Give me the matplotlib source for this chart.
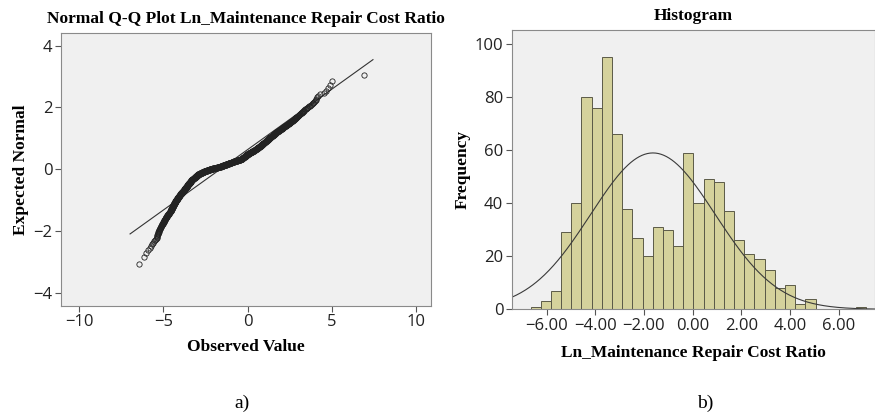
import numpy as np
from statistics import NormalDist
from matplotlib import pyplot as plt

# histogram data (bins)
bin_start = -6.656
bin_width = 0.418
counts = [1, 3, 7, 29, 40, 80, 76, 95, 66, 38, 27, 20, 31, 30, 24, 59,
          40, 49, 48, 37, 26, 21, 19, 15, 8, 9, 2, 4, 0, 0, 0, 0, 1]

# fitted normal curve
fit_mean = -1.63
fit_sd = 2.56

hist_xticks = [-6, -4, -2, 0, 2, 4, 6]
hist_yticks = [0, 20, 40, 60, 80, 100]
qq_xticks = [-10, -5, 0, 5, 10]
qq_yticks = [-4, -2, 0, 2, 4]

bg = '#f0f0f0'
bar_col = '#d5d29c'
edge_col = '#5b5a48'
spine_col = '#8a8a8a'
serif = 'Liberation Serif'
sans = 'Open Sans'

counts = np.array(counts)
edges = bin_start + bin_width * np.arange(len(counts) + 1)
n = counts.sum()

# observed values spread over each bin, expected normal from ranks
obs = []
for i, c in enumerate(counts):
    for j in range(c):
        obs.append(edges[i] + bin_width * (j + 0.5) / c)
obs = np.sort(np.array(obs))
nd = NormalDist()
expected = np.array([nd.inv_cdf(r / (n + 1)) for r in range(1, n + 1)])

fig = plt.figure(figsize=(8.75, 4.15), dpi=100)

# ---- a) Q-Q plot
ax1 = fig.add_axes([0.0694, 0.2627, 0.4232, 0.6586])
ax1.set_facecolor(bg)
line_x = np.array([-6.98, 7.45])
ax1.plot(line_x, (line_x - fit_mean) / fit_sd, color='#333333', lw=0.8)
ax1.plot(obs, expected, 'o', mfc='none', mec='#222222', mew=0.6, ms=3.8)
ax1.set_xlim(-11.1, 10.9)
ax1.set_ylim(-4.42, 4.42)
ax1.set_xticks(qq_xticks)
ax1.set_yticks(qq_yticks)
ax1.set_xticklabels(['\u2212' + str(-v) if v < 0 else str(v) for v in qq_xticks])
ax1.set_yticklabels(['\u2212' + str(-v) if v < 0 else str(v) for v in qq_yticks])
ax1.set_title('Normal Q-Q Plot Ln_Maintenance Repair Cost Ratio', family=serif,
              weight='bold', fontsize=12.5, pad=7)
ax1.set_xlabel('Observed Value', family=serif, weight='bold', fontsize=12.5, labelpad=6)
ax1.set_ylabel('Expected Normal', family=serif, weight='bold', fontsize=12.5, labelpad=3)

# ---- b) histogram
ax2 = fig.add_axes([0.5848, 0.2547, 0.4152, 0.673])
ax2.set_facecolor(bg)
ax2.bar(edges[:-1], counts, width=bin_width, align='edge', color=bar_col,
        edgecolor=edge_col, linewidth=0.7)
ax2.set_xlim(-7.43, 7.49)
ax2.set_ylim(0, 105.3)
xs = np.linspace(-7.43, 7.49, 400)
curve = n * bin_width / (fit_sd * np.sqrt(2 * np.pi)) * np.exp(-0.5 * ((xs - fit_mean) / fit_sd) ** 2)
ax2.plot(xs, curve, color='#3a3a3a', lw=0.8)
ax2.set_xticks(hist_xticks)
ax2.set_xticklabels([('\u2212' if v < 0 else '') + '%.2f' % abs(v) for v in hist_xticks])
ax2.set_yticks(hist_yticks)
ax2.set_title('Histogram', family=serif, weight='bold', fontsize=12.5, pad=7)
ax2.set_xlabel('Ln_Maintenance Repair Cost Ratio', family=serif, weight='bold',
               fontsize=12.5, labelpad=8)
ax2.set_ylabel('Frequency', family=serif, weight='bold', fontsize=12.5, labelpad=3)

for ax in (ax1, ax2):
    for s in ax.spines.values():
        s.set_color(spine_col)
    ax.tick_params(colors='#555555', labelcolor='#222222', labelsize=12,
                   length=4, width=0.8, pad=2)
    for lab in ax.get_xticklabels() + ax.get_yticklabels():
        lab.set_family(sans)

fig.text(0.276, 0.028, 'a)', family=serif, fontsize=14, ha='center', va='center')
fig.text(0.806, 0.028, 'b)', family=serif, fontsize=14, ha='center', va='center')

fig.savefig('out.png', dpi=100)
